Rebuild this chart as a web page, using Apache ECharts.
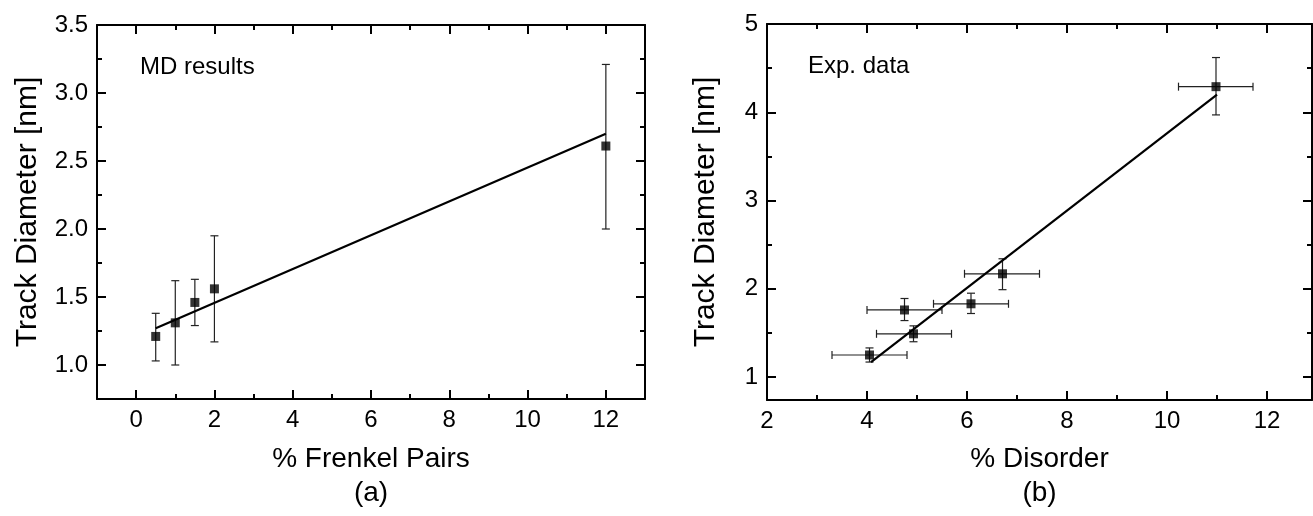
<!DOCTYPE html>
<html>
<head>
<meta charset="utf-8">
<script src="https://cdn.jsdelivr.net/npm/echarts@6/dist/echarts.min.js"></script>
<style>
  html, body { margin: 0; padding: 0; background: #fff; }
  #chart { width: 1313px; height: 516px; }
</style>
</head>
<body>
<div id="chart"></div>
<script>
// (a) MD results
const fpX = [0.5, 1.0, 1.5, 2.0, 12];
const fpY = [1.21, 1.31, 1.46, 1.56, 2.61];
const fpYLow = [1.03, 1.00, 1.29, 1.17, 2.00];
const fpYHigh = [1.38, 1.62, 1.63, 1.95, 3.21];
const fpFitX = [0.5, 12];
const fpFitY = [1.27, 2.70];

// (b) Exp. data
const disX = [4.05, 4.75, 4.93, 6.08, 6.71, 10.98];
const disY = [1.25, 1.76, 1.49, 1.83, 2.17, 4.29];
const disXLow = [3.30, 4.00, 4.19, 5.33, 5.95, 10.23];
const disXHigh = [4.80, 5.50, 5.69, 6.83, 7.45, 11.72];
const disYLow = [1.17, 1.64, 1.40, 1.72, 1.99, 3.97];
const disYHigh = [1.33, 1.89, 1.58, 1.95, 2.34, 4.62];
const disFitX = [4.08, 11.0];
const disFitY = [1.17, 4.20];

// ticks
const aXMajor = [0, 2, 4, 6, 8, 10, 12];
const aXMinor = [1, 3, 5, 7, 9, 11];
const aYMajor = [1.0, 1.5, 2.0, 2.5, 3.0, 3.5];
const aYMinor = [1.25, 1.75, 2.25, 2.75, 3.25];
const bXMajor = [2, 4, 6, 8, 10, 12];
const bXMinor = [3, 5, 7, 9, 11];
const bYMajor = [1, 2, 3, 4, 5];
const bYMinor = [1.5, 2.5, 3.5, 4.5];

const FONT = '"Liberation Sans", Arial, Helvetica, sans-serif';

function makeAxes(grid, min, max, major, minor, pos, mirror, fmt, name, nameGap, nameSize) {
  const base = { gridIndex: grid, type: 'value', min: min, max: max, offset: 0,
    splitLine: { show: false } };
  const line = { show: true, onZero: false, lineStyle: { color: '#000', width: 2 } };
  const noLine = { show: false, onZero: false };
  return [
    Object.assign({}, base, {
      position: pos, axisLine: line,
      axisTick: { show: true, inside: true, length: 9, customValues: major, lineStyle: { color: '#000', width: 2 } },
      axisLabel: { show: true, customValues: major, formatter: fmt, margin: 9,
        color: '#000', fontSize: 24, fontFamily: FONT },
      name: name, nameLocation: 'middle', nameGap: nameGap,
      nameTextStyle: { color: '#000', fontSize: nameSize, fontFamily: FONT, lineHeight: 34 }
    }),
    Object.assign({}, base, {
      position: pos, axisLine: noLine,
      axisTick: { show: true, inside: true, length: 5, customValues: minor, lineStyle: { color: '#000', width: 2 } },
      axisLabel: { show: false }
    }),
    Object.assign({}, base, {
      position: mirror, axisLine: line,
      axisTick: { show: true, inside: true, length: 9, customValues: major, lineStyle: { color: '#000', width: 2 } },
      axisLabel: { show: false }
    }),
    Object.assign({}, base, {
      position: mirror, axisLine: noLine,
      axisTick: { show: true, inside: true, length: 5, customValues: minor, lineStyle: { color: '#000', width: 2 } },
      axisLabel: { show: false }
    })
  ];
}

function errRender(hasX) {
  return function (params, api) {
    const x = api.value(0), y = api.value(1);
    const cap = 4;
    const children = [];
    const style = { stroke: '#222', lineWidth: 1.2 };
    const yl = api.coord([x, api.value(2)]);
    const yh = api.coord([x, api.value(3)]);
    children.push({ type: 'line', shape: { x1: yl[0], y1: yl[1], x2: yh[0], y2: yh[1] }, style: style });
    children.push({ type: 'line', shape: { x1: yl[0] - cap, y1: yl[1], x2: yl[0] + cap, y2: yl[1] }, style: style });
    children.push({ type: 'line', shape: { x1: yh[0] - cap, y1: yh[1], x2: yh[0] + cap, y2: yh[1] }, style: style });
    if (hasX) {
      const xl = api.coord([api.value(4), y]);
      const xh = api.coord([api.value(5), y]);
      children.push({ type: 'line', shape: { x1: xl[0], y1: xl[1], x2: xh[0], y2: xh[1] }, style: style });
      children.push({ type: 'line', shape: { x1: xl[0], y1: xl[1] - cap, x2: xl[0], y2: xl[1] + cap }, style: style });
      children.push({ type: 'line', shape: { x1: xh[0], y1: xh[1] - cap, x2: xh[0], y2: xh[1] + cap }, style: style });
    }
    return { type: 'group', children: children };
  };
}

const fpErr = fpX.map((x, i) => [x, fpY[i], fpYLow[i], fpYHigh[i]]);
const disErr = disX.map((x, i) => [x, disY[i], disYLow[i], disYHigh[i], disXLow[i], disXHigh[i]]);

const chart = echarts.init(document.getElementById('chart'), null, { renderer: 'canvas' });
chart.setOption({
  backgroundColor: '#fff',
  animation: false,
  grid: [
    { left: 97, top: 25, width: 548, height: 374 },
    { left: 767, top: 24, width: 545, height: 376 }
  ],
  xAxis: [].concat(
    makeAxes(0, -1, 13, aXMajor, aXMinor, 'bottom', 'top', v => String(v), '% Frenkel Pairs\n(a)', 43, 28),
    makeAxes(1, 2, 12.9, bXMajor, bXMinor, 'bottom', 'top', v => String(v), '% Disorder\n(b)', 42, 28)
  ),
  yAxis: [].concat(
    makeAxes(0, 0.75, 3.5, aYMajor, aYMinor, 'left', 'right', v => v.toFixed(1), 'Track Diameter [nm]', 52, 30),
    makeAxes(1, 0.74, 5, bYMajor, bYMinor, 'left', 'right', v => String(v), 'Track Diameter [nm]', 44, 30)
  ),
  graphic: [
    { type: 'text', left: 140, top: 55, style: { text: 'MD results', fontSize: 24, fontFamily: FONT, fill: '#000' } },
    { type: 'text', left: 808, top: 54, style: { text: 'Exp. data', fontSize: 24, fontFamily: FONT, fill: '#000' } }
  ],
  series: [
    { type: 'custom', xAxisIndex: 0, yAxisIndex: 0, renderItem: errRender(false), data: fpErr, z: 2 },
    { type: 'line', xAxisIndex: 0, yAxisIndex: 0, data: fpFitX.map((x, i) => [x, fpFitY[i]]),
      showSymbol: false, symbol: 'none', lineStyle: { color: '#000', width: 2.2 }, z: 3 },
    { type: 'scatter', xAxisIndex: 0, yAxisIndex: 0, data: fpX.map((x, i) => [x, fpY[i]]),
      symbol: 'rect', symbolSize: 9, itemStyle: { color: '#000' }, z: 4 },
    { type: 'custom', xAxisIndex: 4, yAxisIndex: 4, renderItem: errRender(true), data: disErr, z: 2 },
    { type: 'line', xAxisIndex: 4, yAxisIndex: 4, data: disFitX.map((x, i) => [x, disFitY[i]]),
      showSymbol: false, symbol: 'none', lineStyle: { color: '#000', width: 2.2 }, z: 3 },
    { type: 'scatter', xAxisIndex: 4, yAxisIndex: 4, data: disX.map((x, i) => [x, disY[i]]),
      symbol: 'rect', symbolSize: 9, itemStyle: { color: '#000' }, z: 4 }
  ]
});
</script>
</body>
</html>
